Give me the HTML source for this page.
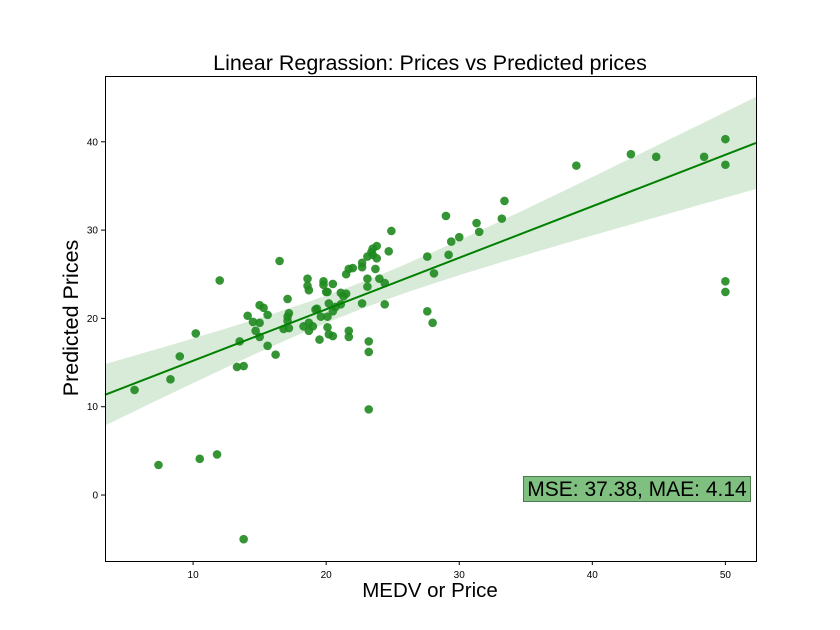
<!DOCTYPE html>
<html><head><meta charset="utf-8"><style>
body{margin:0;background:#fff;}
svg{display:block;font-family:"Liberation Sans","DejaVu Sans",sans-serif;}
</style></head><body>
<svg id="chart" width="840" height="630" xmlns="http://www.w3.org/2000/svg">
<text x="430" y="70" font-size="21.5" text-anchor="middle">Linear Regrassion: Prices vs Predicted prices</text>
<text x="430" y="597" font-size="20.5" text-anchor="middle">MEDV or Price</text>
<text transform="translate(78,318) rotate(-90)" font-size="21.5" text-anchor="middle">Predicted Prices</text>
<g id="band"></g>
<g id="pts"></g>
<g id="line"></g>
<g id="ticks"></g>
<rect x="105.5" y="76.5" width="651" height="485" fill="none" stroke="#000" stroke-width="1"/>
<rect x="523.5" y="476.5" width="227" height="25" fill="#7fbf7f" stroke="#4d7a4d" stroke-width="1"/>
<text x="637" y="496" font-size="21" text-anchor="middle">MSE: 37.38, MAE: 4.14</text>
</svg>
<script>
const xTicks = [10, 20, 30, 40, 50];
const yTicks = [0, 10, 20, 30, 40];
const actual = [24.9,23.8,23.5,23.4,23.5,23.1,23.8,24.7,16.5,12.0,22.7,22.7,22.0,21.7,21.5,23.7,18.6,18.6,18.7,19.8,19.8,20.5,20.0,20.1,23.1,23.1,24.0,24.4,17.1,21.1,21.3,21.5,15.0,15.3,20.2,21.1,22.7,24.4,19.2,19.3,20.5,20.7,14.1,15.6,17.2,17.1,19.6,20.1,14.5,15.0,17.1,18.3,18.7,19.0,20.1,18.7,16.8,17.2,14.7,15.0,21.7,21.7,20.2,20.5,10.2,19.5,13.5,23.2,23.2,15.6,16.2,9.0,13.3,13.8,8.3,5.6,7.4,10.5,11.8,13.8,23.2,27.6,29.2,29.0,29.4,30.0,31.3,31.5,33.2,33.4,28.1,27.6,28.0,38.8,42.9,44.8,48.4,50,50,50,50];
const predicted = [29.9,28.2,27.9,27.5,27.2,27.0,26.8,27.6,26.5,24.3,26.3,25.8,25.7,25.6,25.0,25.6,24.5,23.7,23.2,24.2,23.8,23.9,23.0,23.0,24.5,23.6,24.5,24.0,22.2,22.9,22.5,22.8,21.5,21.2,21.7,21.6,21.7,21.6,21.0,21.1,20.8,21.3,20.3,20.4,20.6,20.2,20.2,20.2,19.6,19.5,19.7,19.1,19.5,19.1,19.0,18.6,18.8,18.9,18.6,17.9,18.6,17.9,18.2,18.0,18.3,17.6,17.4,17.4,16.2,16.9,15.9,15.7,14.5,14.6,13.1,11.9,3.4,4.1,4.6,-5.0,9.7,27.0,27.2,31.6,28.7,29.2,30.8,29.8,31.3,33.3,25.1,20.8,19.5,37.3,38.6,38.3,38.3,40.3,37.4,24.2,23.0];

const X0=3.38, X1=52.3, Y0=-7.47, Y1=47.45;
const L=105, R=756, T=76, B=561;
function sx(v){return L+(v-X0)/(X1-X0)*(R-L);}
function sy(v){return B-(v-Y0)/(Y1-Y0)*(B-T);}
const NS="http://www.w3.org/2000/svg";
function mk(tag,attrs,parent){const e=document.createElementNS(NS,tag);for(const k in attrs)e.setAttribute(k,attrs[k]);parent.appendChild(e);return e;}

const n=actual.length;
const mx=actual.reduce((a,b)=>a+b,0)/n, my=predicted.reduce((a,b)=>a+b,0)/n;
let sxx=0,sxy=0;for(let i=0;i<n;i++){sxx+=(actual[i]-mx)**2;sxy+=(actual[i]-mx)*(predicted[i]-my);}
const slope=sxy/sxx, icpt=my-slope*mx;
let sse=0;for(let i=0;i<n;i++){sse+=(predicted[i]-icpt-slope*actual[i])**2;}
const s=Math.sqrt(sse/(n-2));
const up=[],lo=[];
for(let k=0;k<=60;k++){const x=X0+(X1-X0)*k/60;const f=icpt+slope*x;const h=3.1*s*Math.sqrt(1/n+(x-mx)**2/sxx);up.push(sx(x)+','+sy(f+h));lo.unshift(sx(x)+','+sy(f-h));}
const band=mk('polygon',{points:up.concat(lo).join(' '),fill:'#d8ead8'},document.getElementById('band'));



const pg=document.getElementById('pts');
for(let i=0;i<n;i++){
  const c=mk('circle',{cx:sx(actual[i]),cy:sy(predicted[i]),r:4.3,fill:'#1f8a1f','fill-opacity':0.9},pg);
  
  
}
const ln=mk('line',{x1:sx(X0),y1:sy(icpt+slope*X0),x2:sx(X1),y2:sy(icpt+slope*X1),stroke:'#008000','stroke-width':2},document.getElementById('line'));



const tg=document.getElementById('ticks');
xTicks.forEach(v=>{
  const t=mk('line',{x1:sx(v),x2:sx(v),y1:B,y2:B+4,stroke:'#000'},tg);
  
  
  const tx=mk('text',{x:sx(v),y:B+17,'font-size':10,'text-anchor':'middle'},tg);tx.textContent=v;
  
  
});
yTicks.forEach(v=>{
  const t=mk('line',{x1:L-4,x2:L,y1:sy(v),y2:sy(v),stroke:'#000'},tg);
  
  
  const tx=mk('text',{x:L-7,y:sy(v)+3.5,'font-size':10,'text-anchor':'end'},tg);tx.textContent=v;
  
  
});
</script>
</body></html>
